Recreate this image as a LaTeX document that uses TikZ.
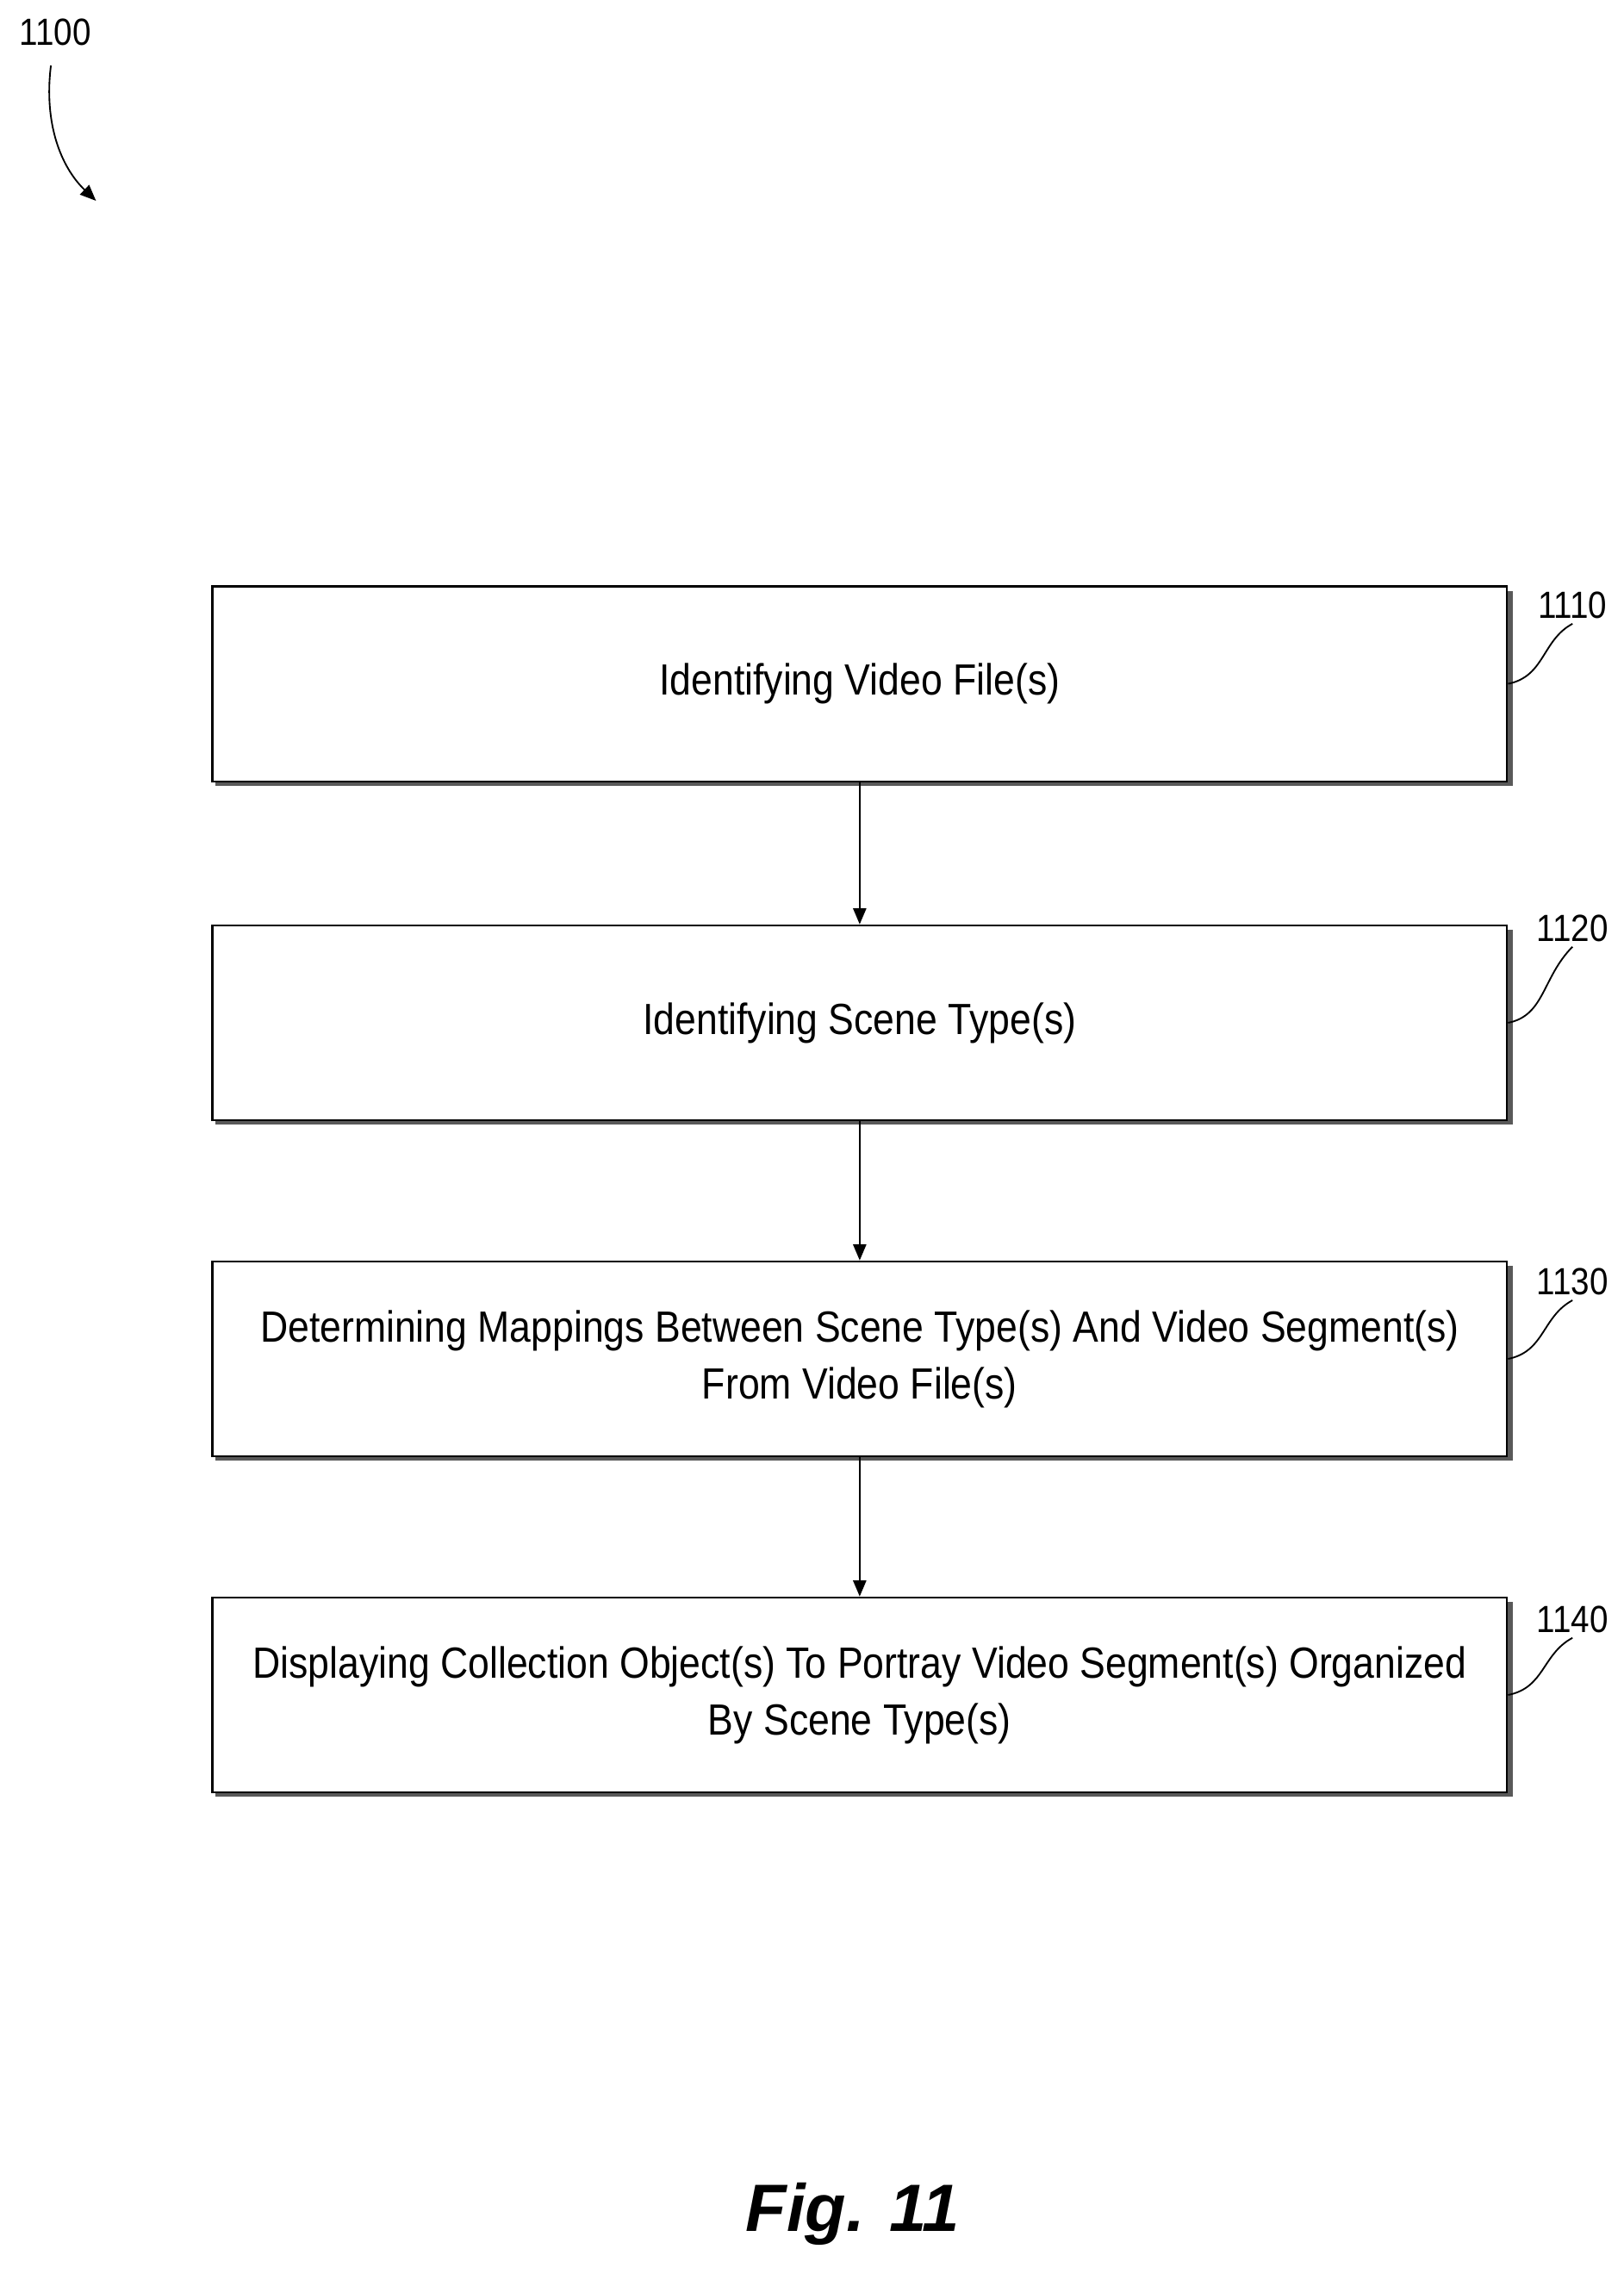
\documentclass[tikz,border=0pt]{standalone}
\usepackage{fontspec}
\setmainfont{Liberation Sans}[FakeStretch=0.88]
\newfontfamily\figfont{Liberation Sans}
\usetikzlibrary{arrows.meta}
\begin{document}
\begin{tikzpicture}[x=1pt,y=-1pt,
  box/.style={draw,line width=1.4pt,minimum width=890pt,minimum height=134pt,align=center,font=\fontsize{30}{39}\selectfont,fill=white},
  shadow/.style={fill=black!65},
  arr/.style={line width=1.2pt,-{Triangle[length=11pt,width=9pt]}},
  lbl/.style={font=\fontsize{26}{30}\selectfont},
  lead/.style={line width=1.1pt}]
\useasboundingbox (0,0) rectangle (1116,1563);
\foreach \y in {470,703,934,1165}{\fill[shadow] (148,\y-64) rectangle (1040,\y+70);}
\node[box] (b1) at (591,470) {Identifying Video File(s)};
\node[box] (b2) at (591,703) {Identifying Scene Type(s)};
\node[box] (b3) at (591,934) {Determining Mappings Between Scene Type(s) And Video Segment(s)\\From Video File(s)};
\node[box] (b4) at (591,1165) {Displaying Collection Object(s) To Portray Video Segment(s) Organized\\By Scene Type(s)};
\draw[arr] (b1) -- (b2);
\draw[arr] (b2) -- (b3);
\draw[arr] (b3) -- (b4);
\foreach \n/\t/\y in {l1/1110/416,l2/1120/638,l3/1130/881,l4/1140/1113}{
  \node[lbl] (\n) at (1081,\y) {\t};
}
\draw[lead] (b1.east) .. controls (1062,465) and (1060,440) .. (l1.south);
\draw[lead] (b2.east) .. controls (1062,698) and (1060,672) .. (l2.south);
\draw[lead] (b3.east) .. controls (1062,929) and (1060,905) .. (l3.south);
\draw[lead] (b4.east) .. controls (1062,1160) and (1060,1137) .. (l4.south);
\node[lbl] (n1100) at (38,22) {1100};
\coordinate (a1100) at (66,138);
\coordinate (s1100) at (35,45);
\draw[lead,-{Triangle[length=11pt,width=9pt]}] (s1100) .. controls (30,85) and (42,115) .. (a1100);
\node[font=\figfont\bfseries\itshape\fontsize{46}{50}\selectfont] (fig) at (586,1522) {Fig. 11};
\end{tikzpicture}
\end{document}
